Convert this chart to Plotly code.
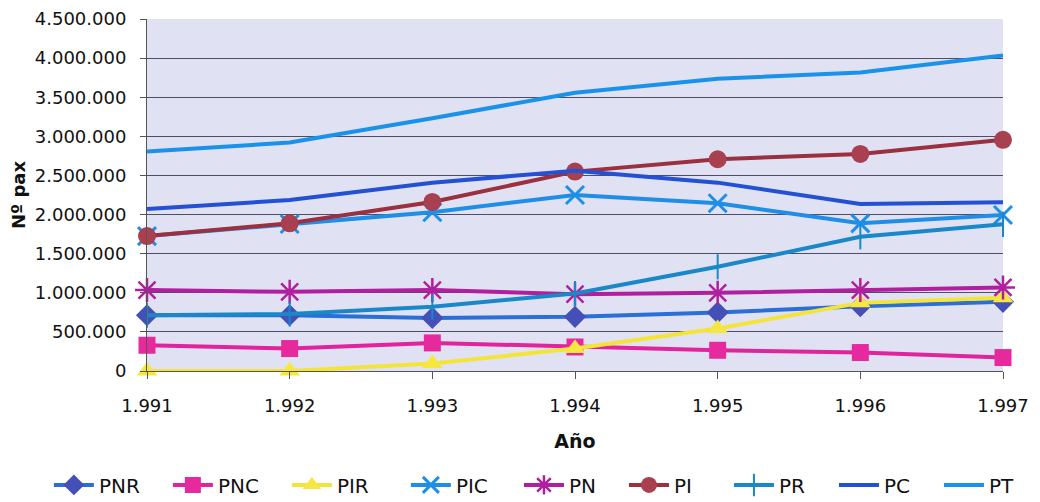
import plotly.graph_objects as go

years = [1991, 1992, 1993, 1994, 1995, 1996, 1997]
year_labels = ["1.991", "1.992", "1.993", "1.994", "1.995", "1.996", "1.997"]

PNR = [713000, 713000, 679000, 692000, 748000, 829000, 884000]
PNC = [329000, 287000, 359000, 307000, 265000, 236000, 172000]
PIR = [0, 0, 95000, 287000, 543000, 871000, 935000]
PIC = [1725000, 1880000, 2030000, 2250000, 2144000, 1888000, 1994000]
PN = [1034000, 1012000, 1034000, 982000, 999000, 1034000, 1068000]
PI = [1725000, 1888000, 2161000, 2549000, 2707000, 2775000, 2955000]
PR = [713000, 728000, 820000, 991000, 1332000, 1716000, 1875000]
PC = [2071000, 2186000, 2408000, 2561000, 2408000, 2135000, 2157000]
PT = [2805000, 2920000, 3232000, 3557000, 3736000, 3817000, 4034000]

y_ticks = [0, 500000, 1000000, 1500000, 2000000, 2500000, 3000000, 3500000, 4000000, 4500000]
y_tick_labels = ["0", "500.000", "1.000.000", "1.500.000", "2.000.000", "2.500.000",
                 "3.000.000", "3.500.000", "4.000.000", "4.500.000"]

series = [
    ("PNR", PNR, "#2a6fd6", dict(symbol="diamond", size=17, color="#4450b8"), "legend"),
    ("PNC", PNC, "#e0249c", dict(symbol="square", size=17, color="#e62a9e"), "legend"),
    ("PIR", PIR, "#f4e43a", dict(symbol="triangle-up", size=18, color="#f6e640"), "legend"),
    ("PIC", PIC, "#1e8ee6", dict(symbol="x-thin-open", size=18, color="#1e8ee6", line=dict(width=3, color="#1e8ee6")), "legend"),
    ("PN", PN, "#b0209e", dict(symbol="asterisk-open", size=20, color="#b0209e", line=dict(width=2.5, color="#b0209e")), "legend2"),
    ("PI", PI, "#9a3040", dict(symbol="circle", size=18, color="#a84050"), "legend2"),
    ("PR", PR, "#1a88c8", dict(symbol="line-ns-open", size=18, color="#1a88c8", line=dict(width=2, color="#1a88c8")), "legend2"),
    ("PC", PC, "#2450d4", None, "legend2"),
    ("PT", PT, "#1a92ea", None, "legend2"),
]

fig = go.Figure()
for name, vals, lc, mk, lg in series:
    if mk is None:
        fig.add_trace(go.Scatter(x=years, y=vals, name=name, mode="lines", cliponaxis=False,
                                 line=dict(color=lc, width=4), legend=lg))
    else:
        fig.add_trace(go.Scatter(x=years, y=vals, name=name, mode="lines+markers", cliponaxis=False,
                                 line=dict(color=lc, width=4), marker=mk, legend=lg))

legend_common = dict(orientation="h", xref="container", yref="container",
                     xanchor="left", y=0.034, yanchor="middle",
                     font=dict(family="DejaVu Sans", size=20, color="#111"),
                     itemwidth=40, traceorder="normal", entrywidthmode="pixels",
                     bgcolor="rgba(0,0,0,0)")

fig.update_layout(
    width=1040, height=502,
    margin=dict(l=147, r=37, t=19, b=131, autoexpand=False),
    paper_bgcolor="white",
    plot_bgcolor="#e0e2f4",
    font=dict(family="DejaVu Sans", color="#111"),
    showlegend=True,
    legend=dict(legend_common, x=0.047, entrywidth=64),
    legend2=dict(legend_common, x=0.499, entrywidth=50),
)
fig.update_xaxes(
    range=[1991, 1997], tickvals=years, ticktext=year_labels,
    showgrid=False, zeroline=False, showline=True, linecolor="#555", linewidth=1,
    ticks="outside", ticklen=7, tickcolor="#555", ticklabelstandoff=11,
    tickfont=dict(size=18, family="DejaVu Sans"),
    title=dict(text="<b>Año</b>", font=dict(size=19, family="DejaVu Sans"), standoff=20),
)
fig.update_yaxes(
    range=[0, 4500000], tickvals=y_ticks, ticktext=y_tick_labels,
    showgrid=True, gridcolor="#4e4e66", gridwidth=1, zeroline=False,
    showline=True, linecolor="#555", linewidth=1,
    ticks="outside", ticklen=6, tickcolor="#555", ticklabelstandoff=10,
    tickfont=dict(size=18, family="DejaVu Sans"),
    title=dict(text="<b>Nº pax</b>", font=dict(size=18, family="DejaVu Sans"), standoff=4),
)

fig.write_html("out.html")
